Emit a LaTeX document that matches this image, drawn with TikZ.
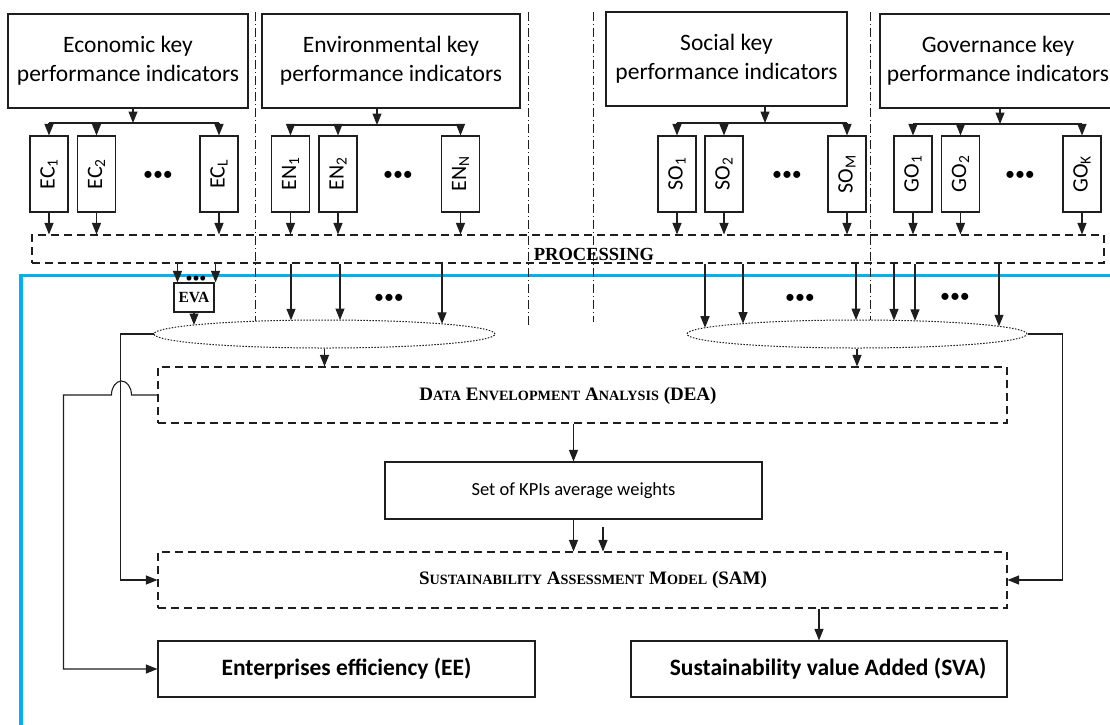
\documentclass[tikz,border=0pt]{standalone}
\usepackage{fontspec}
\setmainfont{Carlito}
\newfontfamily\tnr{Liberation Serif}
\usetikzlibrary{arrows.meta,shapes.geometric,calc}
\definecolor{blueline}{RGB}{0,176,240}
\definecolor{ink}{RGB}{30,30,30}
\newcommand\scx[2]{{\fontsize{19}{19}\selectfont #1}{\fontsize{14.2}{14.2}\selectfont #2}}
\begin{document}
\begin{tikzpicture}[x=1pt,y=-1pt,
 box/.style={draw=ink, line width=1.1pt, inner sep=0pt},
 dbox/.style={draw=ink, line width=1.1pt, dash pattern=on 8pt off 5pt, inner sep=0pt},
 kbox/.style={box, minimum width=38pt, minimum height=76pt, font=\fontsize{22}{22}\selectfont},
 head/.style={box, align=center, font=\fontsize{23.5}{29}\selectfont},
 arr/.style={draw=ink, line width=1.1pt, -{Triangle[length=11.5pt,width=9pt]}},
 conn/.style={draw=ink, line width=1.1pt},
 dd/.style={draw=ink, line width=0.9pt, dash pattern=on 9pt off 3pt on 1pt off 3pt},
 dots/.style={font=\fontsize{20}{20}\selectfont, inner sep=0pt},
 sdots/.style={font=\fontsize{14}{14}\selectfont, inner sep=0pt},
 ell/.style={ellipse, draw=ink, dash pattern=on 1.5pt off 1.5pt, line width=1pt, minimum width=341pt, minimum height=28pt, inner sep=0pt},
 serifb/.style={font=\tnr\bfseries\fontsize{19}{19}\selectfont, inner sep=0pt},
 res/.style={box, font=\fontsize{23.5}{23.5}\selectfont\bfseries}]

\useasboundingbox (0,0) rectangle (1110,724);

% blue frame
\draw[blueline, line width=3.5pt] (1116,275.5) -- (21,275.5) -- (21,730);

% dash-dot separators
\foreach \x/\y in {255/321, 528/325, 593/322, 870/320} \draw[dd] (\x,12) -- (\x,\y);

% heading boxes
\node[head, minimum width=240pt, minimum height=94pt] (ec) at (128,61) {Economic key\\performance indicators};
\node[head, minimum width=258pt, minimum height=94pt] (en) at (391,61) {Environmental key\\performance indicators};
\node[head, minimum width=241pt, minimum height=94pt] (so) at (726.5,59) {Social key\\performance indicators};
\node[head, minimum width=236pt, minimum height=94pt] (go) at (998,61) {Governance key\\performance indicators};

% KPI boxes
\node[kbox] (ec1) at (49,174) {\rotatebox{90}{EC\textsubscript{1}}};
\node[kbox] (ec2) at (96.5,174) {\rotatebox{90}{EC\textsubscript{2}}};
\node[kbox] (ecl) at (219,174) {\rotatebox{90}{EC\textsubscript{L}}};
\node[dots] (ecd) at (158,176) {•••};
\node[kbox] (en1) at (290.5,174) {\rotatebox{90}{EN\textsubscript{1}}};
\node[kbox] (en2) at (338,174) {\rotatebox{90}{EN\textsubscript{2}}};
\node[kbox] (enn) at (460.5,174) {\rotatebox{90}{EN\textsubscript{N}}};
\node[dots] (end) at (398,176) {•••};
\node[kbox] (so1) at (677,174) {\rotatebox{90}{SO\textsubscript{1}}};
\node[kbox] (so2) at (724,174) {\rotatebox{90}{SO\textsubscript{2}}};
\node[kbox] (som) at (847,174) {\rotatebox{90}{SO\textsubscript{M}}};
\node[dots] (sod) at (787,176) {•••};
\node[kbox] (go1) at (913,174) {\rotatebox{90}{GO\textsubscript{1}}};
\node[kbox] (go2) at (960.5,174) {\rotatebox{90}{GO\textsubscript{2}}};
\node[kbox] (gok) at (1082,174) {\rotatebox{90}{GO\textsubscript{K}}};
\node[dots] (god) at (1020,176) {•••};

% processing
\node[dbox, minimum width=1072pt, minimum height=28pt] (proc) at (568,249) {};
\node[serifb, font=\tnr\bfseries\fontsize{18.5}{18.5}\selectfont] (proct) at (594,254) {PROCESSING};

% branches
\coordinate (ecb) at (133,123);
\coordinate (enb) at (377,125);
\coordinate (sob) at (765,123);
\coordinate (gob) at (1000,124);
\foreach \h/\b/\f/\l/\m in {ec/ecb/ec1/ecl/ec2, en/enb/en1/enn/en2, so/sob/so1/som/so2, go/gob/go1/gok/go2} {
  \draw[arr] (\h.south -| \b) -- (\b);
  \draw[conn] (\f.north |- \b) -- (\l.north |- \b);
  \foreach \n in {\f,\m,\l} {
    \draw[arr] (\n.north |- \b) -- (\n.north);
    \draw[arr] (\n.south) -- (\n.south |- proc.north);
  }
}

% EVA
\node[box, minimum width=40pt, minimum height=29pt, font=\tnr\bfseries\fontsize{15.5}{15.5}\selectfont] (eva) at (194,297.5) {EVA};
\coordinate (evaA) at ($(eva.north west)+(4,0)$);
\coordinate (evaB) at ($(eva.north east)+(1,0)$);
\draw[arr] (evaA |- proc.south) -- (evaA);
\draw[arr] (evaB |- proc.south) -- (evaB);
\node[sdots] (evad) at (196,279) {•••};

% ellipses
\node[ell] (ellL) at (324.5,334) {};
\node[ell, minimum width=340pt] (ellR) at (857,334) {};

\foreach \x in {291,340,442} {
  \draw[arr] (proc.south -| ellL.center) ++({\x-324.5},0) -- ($(ellL.center)+({\x-324.5},{-14*sqrt(1-((\x-324.5)/170.5)^2)})$);
}
\foreach \x in {705,743,856,894,915,999} {
  \draw[arr] (proc.south -| ellR.center) ++({\x-857},0) -- ($(ellR.center)+({\x-857},{-14*sqrt(1-((\x-857)/170)^2)})$);
}
\draw[arr] (eva.south) -- ($(ellL.center)+({194-324.5},{-14*sqrt(1-((194-324.5)/170.5)^2)})$);
\node[dots] (ld) at (389,299) {•••};
\node[dots] (rd1) at (800,299) {•••};
\node[dots] (rd2) at (955,298) {•••};

% DEA
\node[dbox, minimum width=849pt, minimum height=56pt] (dea) at (582.5,395) {};
\node[serifb] (deat) at (568,396) {\scx{D}{ATA} \scx{E}{NVELOPMENT} \scx{A}{NALYSIS} \scx{(DEA)}{}};
\draw[arr] (ellL.south) -- (ellL.south |- dea.north);
\draw[arr] (ellR.south) -- (ellR.south |- dea.north);

% KPI weights
\node[box, minimum width=377pt, minimum height=57pt, font=\fontsize{18.5}{18.5}\selectfont] (kpi) at (573.5,490.5) {Set of KPIs average weights};
\draw[arr] (kpi.north |- dea.south) -- (kpi.north);

% SAM
\node[dbox, minimum width=849pt, minimum height=56pt] (sam) at (582.5,580) {};
\node[serifb] (samt) at (593,580) {\scx{S}{USTAINABILITY} \scx{A}{SSESSMENT} \scx{M}{ODEL} \scx{(SAM)}{}};
\draw[arr] (kpi.south) -- (kpi.south |- sam.north);
\coordinate (sh) at (603,527);
\draw[arr] (sh) -- (sh |- sam.north);

% results
\node[res, minimum width=377pt, minimum height=56pt] (ee) at (346.5,669) {Enterprises efficiency (EE)};
\node[res, minimum width=376pt, minimum height=56pt] (sva) at (819,669) {\hspace*{18pt}Sustainability value Added (SVA)};
\draw[arr] (sam.south -| sva.north) -- (sva.north);

% side connectors
\draw[arr] (ellL.west) -- ++(-33,0) |- (sam.west);
\draw[arr] (dea.west) -- ++(-26,0) arc[start angle=0, end angle=180, x radius=10pt, y radius=14pt] -- ++(-48,0) |- (ee.west);
\draw[arr] (ellR.east) -- ++(35,0) |- (sam.east);
\end{tikzpicture}
\end{document}
